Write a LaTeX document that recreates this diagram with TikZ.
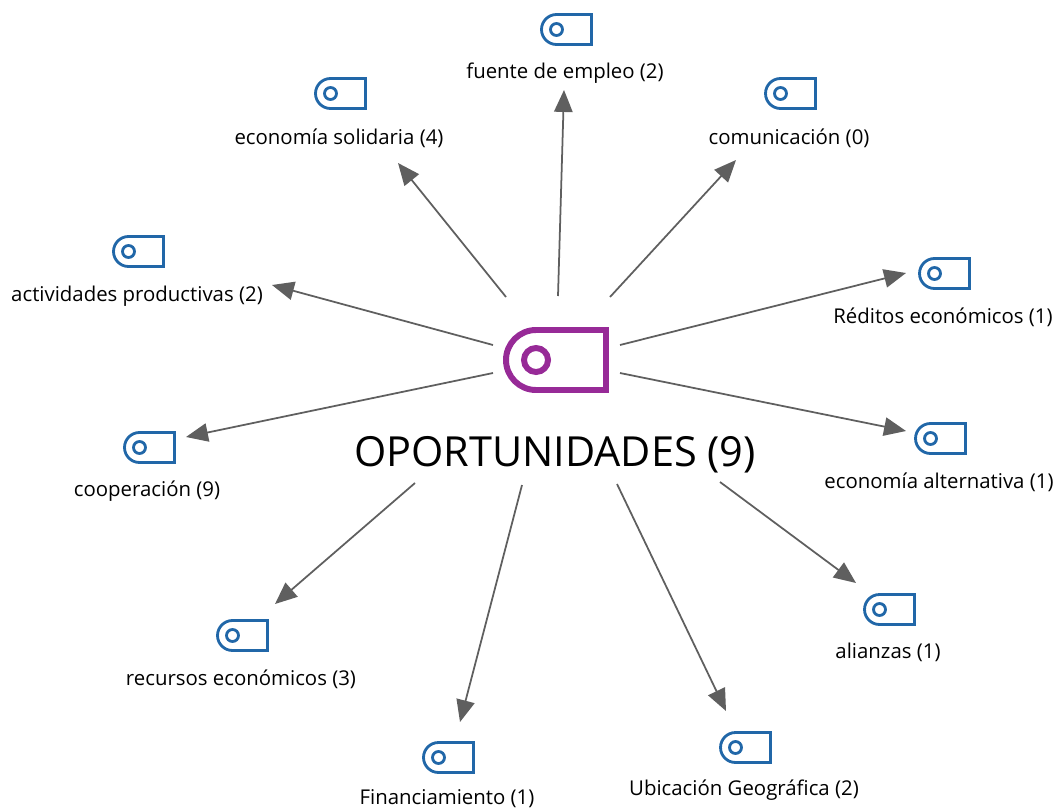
\documentclass[tikz,border=0pt]{standalone}
\usepackage{fontspec}
\setmainfont{Open Sans}
\usetikzlibrary{arrows.meta}
\definecolor{tagblue}{HTML}{2167A8}
\definecolor{tagpurple}{HTML}{972A97}
\definecolor{linkgray}{HTML}{5F5F5F}
\def\tagicon[#1](#2)(#3){\draw[#1,shift={(#2)},scale=#3] (50,0) -- (15,0) arc (270:90:15) -- (50,30) -- cycle; \draw[#1,shift={(#2)},scale=#3] (15,15) circle (6);}
\tikzset{
	small tag/.style={draw=tagblue, line width=1.6pt},
	big tag/.style={draw=tagpurple, line width=3.4pt},
	code label/.style={font=\fontsize{11.6}{13}\selectfont, inner sep=0pt},
	link/.style={draw=linkgray, line width=1pt, -{Triangle[length=12.5pt,width=10.5pt]}}
}

\begin{document}
\begin{tikzpicture}[x=0.02cm,y=-0.02cm]
	\useasboundingbox (0,0) rectangle (1060,811);

	\tagicon[big tag](506,330)(2);
	\node[inner sep=0pt, font=\fontsize{23.6}{28}\selectfont] (hub) at (555,455) {OPORTUNIDADES (9)};

	\tagicon[small tag](541.5,14.5)(1);
	\tagicon[small tag](315.5,78.5)(1);
	\tagicon[small tag](765.5,78.5)(1);
	\tagicon[small tag](113.5,236.5)(1);
	\tagicon[small tag](919.5,258.5)(1);
	\tagicon[small tag](124.5,432.5)(1);
	\tagicon[small tag](915.5,423.5)(1);
	\tagicon[small tag](217.5,620.5)(1);
	\tagicon[small tag](864.5,594.5)(1);
	\tagicon[small tag](423.5,742.5)(1);
	\tagicon[small tag](720.5,732.5)(1);

	\node[code label] (empleo) at (565,73) {fuente de empleo (2)};
	\node[code label] (solidaria) at (339,138) {economía solidaria (4)};
	\node[code label] (comunicacion) at (789,138) {comunicación (0)};
	\node[code label] (productivas) at (137,296) {actividades productivas (2)};
	\node[code label] (reditos) at (943,317) {Réditos económicos (1)};
	\node[code label] (alternativa) at (939,482) {economía alternativa (1)};
	\node[code label] (cooperacion) at (147,491) {cooperación (9)};
	\node[code label] (recursos) at (241,679) {recursos económicos (3)};
	\node[code label] (alianzas) at (888,652) {alianzas (1)};
	\node[code label] (financiamiento) at (447,799) {Financiamiento (1)};
	\node[code label] (ubicacion) at (744,790) {Ubicación Geográfica (2)};

	% ends of the links round the hub
	\coordinate (fromempleo) at (558,296);
	\coordinate (fromsolidaria) at (506,297);
	\coordinate (fromcomunicacion) at (610,297);
	\coordinate (fromproductivas) at (493,345);
	\coordinate (fromreditos) at (620,345);
	\coordinate (fromalternativa) at (620,373);
	\coordinate (fromcooperacion) at (493,373);
	\coordinate (fromrecursos) at (415,483);
	\coordinate (fromalianzas) at (720,482);
	\coordinate (fromfinanciamiento) at (522,485);
	\coordinate (fromubicacion) at (617,484);

	\coordinate (toempleo) at (564,90);
	\coordinate (tosolidaria) at (398,163);
	\coordinate (tocomunicacion) at (736,160);
	\coordinate (toproductivas) at (272,285);
	\coordinate (toreditos) at (906,273);
	\coordinate (toalternativa) at (906,431);
	\coordinate (tocooperacion) at (186,437);
	\coordinate (torecursos) at (275,604);
	\coordinate (toalianzas) at (856,583);
	\coordinate (tofinanciamiento) at (460,722);
	\coordinate (toubicacion) at (726,711);

	\draw[link] (fromempleo) -- (toempleo);
	\draw[link] (fromsolidaria) -- (tosolidaria);
	\draw[link] (fromcomunicacion) -- (tocomunicacion);
	\draw[link] (fromproductivas) -- (toproductivas);
	\draw[link] (fromreditos) -- (toreditos);
	\draw[link] (fromalternativa) -- (toalternativa);
	\draw[link] (fromcooperacion) -- (tocooperacion);
	\draw[link] (fromrecursos) -- (torecursos);
	\draw[link] (fromalianzas) -- (toalianzas);
	\draw[link] (fromfinanciamiento) -- (tofinanciamiento);
	\draw[link] (fromubicacion) -- (toubicacion);
\end{tikzpicture}
\end{document}
